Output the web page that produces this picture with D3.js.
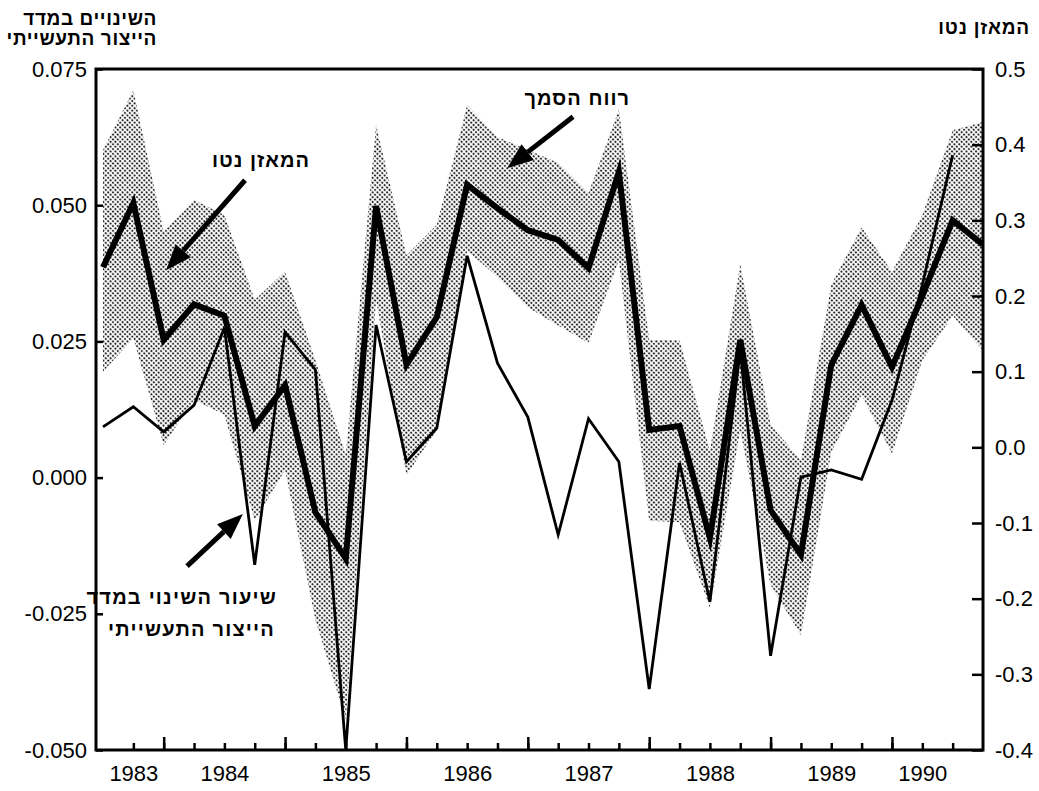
<!DOCTYPE html>
<html lang="he">
<head>
<meta charset="utf-8">
<script src="https://cdn.jsdelivr.net/npm/d3@7"></script>
<style>
  html, body { margin: 0; padding: 0; background: #fff; }
  svg { display: block; font-family: "Liberation Sans", Arial, "DejaVu Sans", sans-serif; }
  .tick text { fill: #000; }
</style>
</head>
<body>
<svg id="chart" width="1039" height="791"></svg>
<script>
// Quarterly observations, 1982 Q3 – 1989 Q4
const quarters = [
  "1982Q3","1982Q4",
  "1983Q1","1983Q2","1983Q3","1983Q4",
  "1984Q1","1984Q2","1984Q3","1984Q4",
  "1985Q1","1985Q2","1985Q3","1985Q4",
  "1986Q1","1986Q2","1986Q3","1986Q4",
  "1987Q1","1987Q2","1987Q3","1987Q4",
  "1988Q1","1988Q2","1988Q3","1988Q4",
  "1989Q1","1989Q2","1989Q3","1989Q4"
];

// Net balance of survey answers (right axis)
const netBalance = [
  0.238, 0.323, 0.142, 0.189, 0.174, 0.028, 0.082, -0.086, -0.147, 0.319,
  0.109, 0.172, 0.347, 0.316, 0.287, 0.274, 0.237, 0.364, 0.023, 0.028,
  -0.120, 0.142, -0.083, -0.142, 0.109, 0.188, 0.106, 0.200, 0.300, 0.268
];

// Confidence interval around the net balance (right axis)
const bandUpper = [
  0.393, 0.472, 0.285, 0.327, 0.307, 0.195, 0.232, 0.115, -0.010, 0.426,
  0.254, 0.294, 0.452, 0.410, 0.393, 0.376, 0.336, 0.446, 0.142, 0.142,
  -0.005, 0.242, 0.030, -0.017, 0.215, 0.291, 0.232, 0.307, 0.419, 0.430
];
const bandLower = [
  0.100, 0.144, 0.003, 0.063, 0.043, -0.097, -0.030, -0.228, -0.360, 0.195,
  -0.037, 0.023, 0.260, 0.225, 0.185, 0.161, 0.138, 0.247, -0.097, -0.099,
  -0.212, 0.023, -0.182, -0.248, -0.006, 0.069, -0.008, 0.115, 0.174, 0.128
];

// Rate of change of the industrial production index (left axis)
const productionChange = [
  0.0093, 0.0130, 0.0084, 0.0133, 0.0275, -0.0160, 0.0267, 0.0198, -0.0500, 0.0280,
  0.0029, 0.0091, 0.0407, 0.0210, 0.0111, -0.0105, 0.0108, 0.0029, -0.0388, 0.0027,
  -0.0228, 0.0234, -0.0327, 0.0001, 0.0014, -0.0003, 0.0142, 0.0354, 0.0592, null
];

// Axis ticks
const leftTicks = [-0.05, -0.025, 0, 0.025, 0.05, 0.075];
const leftTickLabels = ["-0.050", "-0.025", "0.000", "0.025", "0.050", "0.075"];
const rightTicks = [-0.4, -0.3, -0.2, -0.1, 0, 0.1, 0.2, 0.3, 0.4, 0.5];
const rightTickLabels = ["-0.4", "-0.3", "-0.2", "-0.1", "0.0", "0.1", "0.2", "0.3", "0.4", "0.5"];
const yearLabels = ["1983", "1984", "1985", "1986", "1987", "1988", "1989", "1990"];
const yearLabelAt = ["1982Q4", "1983Q3", "1984Q3", "1985Q3", "1986Q3", "1987Q3", "1988Q3", "1989Q2"];

// Text
const leftTitle = ["השינויים במדד", "הייצור התעשייתי"];
const rightTitle = "המאזן נטו";
const labelNet = "המאזן נטו";
const labelBand = "רווח הסמך";
const labelProd = ["שיעור השינוי במדד", "הייצור התעשייתי"];

// ---- layout ----
const svg = d3.select("#chart");
const plot = { left: 96, right: 983, top: 69, bottom: 750 };

const x = d3.scalePoint().domain(quarters).range([103, plot.right]);
const xi = d3.scaleLinear().domain([0, quarters.length - 1]).range([103, plot.right]);
const yL = d3.scaleLinear().domain([-0.05, 0.075]).range([plot.bottom, plot.top]);
const yR = d3.scaleLinear().domain([-0.4, 0.5]).range([plot.bottom, plot.top]);

// stipple texture for the confidence band
const defs = svg.append("defs");
const pat = defs.append("pattern")
  .attr("id", "stipple")
  .attr("patternUnits", "userSpaceOnUse")
  .attr("width", 3.4).attr("height", 3.4)
  .attr("patternTransform", "rotate(45)");
pat.append("rect").attr("width", 3.4).attr("height", 3.4).attr("fill", "#fff");
pat.append("circle").attr("cx", 1.7).attr("cy", 1.7).attr("r", 1.15).attr("fill", "#2a2a2a");

const clip = defs.append("clipPath").attr("id", "plotClip");
clip.append("rect")
  .attr("x", plot.left).attr("y", plot.top)
  .attr("width", plot.right - plot.left).attr("height", plot.bottom - plot.top);

const series = quarters.map((q, i) => ({
  q, net: netBalance[i], hi: bandUpper[i], lo: bandLower[i], prod: productionChange[i]
}));

const g = svg.append("g").attr("clip-path", "url(#plotClip)");

// confidence band
g.append("path")
  .datum(series)
  .attr("fill", "url(#stipple)")
  .attr("d", d3.area()
    .x(d => x(d.q))
    .y0(d => yR(d.lo))
    .y1(d => yR(d.hi)));

// industrial production change (thin)
g.append("path")
  .datum(series)
  .attr("fill", "none")
  .attr("stroke", "#000")
  .attr("stroke-width", 2.8)
  .attr("stroke-linejoin", "miter")
  .attr("d", d3.line()
    .defined(d => d.prod != null)
    .x(d => x(d.q))
    .y(d => yL(d.prod)));

// net balance (thick)
g.append("path")
  .datum(series)
  .attr("fill", "none")
  .attr("stroke", "#000")
  .attr("stroke-width", 6)
  .attr("stroke-linejoin", "miter")
  .attr("stroke-miterlimit", 6)
  .attr("d", d3.line()
    .x(d => x(d.q))
    .y(d => yR(d.net)));

// ---- axes ----
const tickFont = "22px";

const axL = svg.append("g")
  .attr("transform", `translate(${plot.left},0)`)
  .call(d3.axisLeft(yL)
    .tickValues(leftTicks)
    .tickFormat((d, i) => leftTickLabels[i])
    .tickSizeInner(-7).tickSizeOuter(0).tickPadding(9));
axL.select(".domain").remove();

const axR = svg.append("g")
  .attr("transform", `translate(${plot.right},0)`)
  .call(d3.axisRight(yR)
    .tickValues(rightTicks)
    .tickFormat((d, i) => rightTickLabels[i])
    .tickSizeInner(-11).tickSizeOuter(0).tickPadding(12));
axR.select(".domain").remove();

const minorQ = quarters.slice(1, quarters.length - 1);
const majorQ = quarters.filter(q => q.endsWith("Q1"));

const axBMinor = svg.append("g")
  .attr("transform", `translate(0,${plot.bottom})`)
  .call(d3.axisBottom(x).tickValues(minorQ).tickFormat("").tickSizeInner(-7).tickSizeOuter(0));
axBMinor.select(".domain").remove();

const axBMajor = svg.append("g")
  .attr("transform", `translate(0,${plot.bottom})`)
  .call(d3.axisBottom(x).tickValues(majorQ).tickFormat("").tickSizeInner(-13).tickSizeOuter(0));
axBMajor.select(".domain").remove();

const axBLabels = svg.append("g")
  .attr("transform", `translate(0,${plot.bottom})`)
  .call(d3.axisBottom(x)
    .tickValues(yearLabelAt)
    .tickFormat((d, i) => yearLabels[i])
    .tickSize(0).tickPadding(15));
axBLabels.select(".domain").remove();

svg.selectAll(".tick line").attr("stroke", "#000").attr("stroke-width", 2.5);
svg.selectAll(".tick text")
  .attr("font-family", "'Liberation Sans', Arial, sans-serif")
  .attr("font-size", tickFont);

// frame
svg.append("rect")
  .attr("x", plot.left).attr("y", plot.top)
  .attr("width", plot.right - plot.left).attr("height", plot.bottom - plot.top)
  .attr("fill", "none").attr("stroke", "#000").attr("stroke-width", 3);

// ---- titles ----
function hebText(sel, txt, px, py, size, spacing) {
  return sel.append("text")
    .attr("x", px).attr("y", py)
    .attr("font-size", size)
    .attr("font-weight", "bold")
    .attr("letter-spacing", spacing)
    .attr("text-anchor", "end")
    .text(txt);
}

hebText(svg, leftTitle[0], 157, 25, "19px", "0.6px");
hebText(svg, leftTitle[1], 157, 45, "19px", "0.6px");
hebText(svg, rightTitle, 1030, 34, "19px", "0.8px");

// ---- annotations ----
function arrow(fromIdx, fromVal, toIdx, toVal) {
  const x0 = xi(fromIdx), y0 = yR(fromVal), x1 = xi(toIdx), y1 = yR(toVal);
  const ang = Math.atan2(y1 - y0, x1 - x0);
  const headLen = 26, headHalf = 10;
  const bx = x1 - headLen * Math.cos(ang), by = y1 - headLen * Math.sin(ang);
  svg.append("line")
    .attr("x1", x0).attr("y1", y0).attr("x2", bx).attr("y2", by)
    .attr("stroke", "#000").attr("stroke-width", 5);
  const px = -Math.sin(ang), py = Math.cos(ang);
  svg.append("path")
    .attr("d", d3.line()([
      [x1, y1],
      [bx + px * headHalf, by + py * headHalf],
      [bx - px * headHalf, by - py * headHalf]
    ]) + "Z")
    .attr("fill", "#000");
}

arrow(4.68, 0.353, 2.08, 0.234);
arrow(15.49, 0.437, 13.32, 0.369);
arrow(2.77, -0.157, 4.61, -0.088);

hebText(svg, labelNet, 310, 167, "20px", "1px");
hebText(svg, labelBand, 630, 105, "20px", "1px");
hebText(svg, labelProd[0], 277, 604, "20px", "1.2px");
hebText(svg, labelProd[1], 275, 636, "20px", "1.2px");
</script>
</body>
</html>
